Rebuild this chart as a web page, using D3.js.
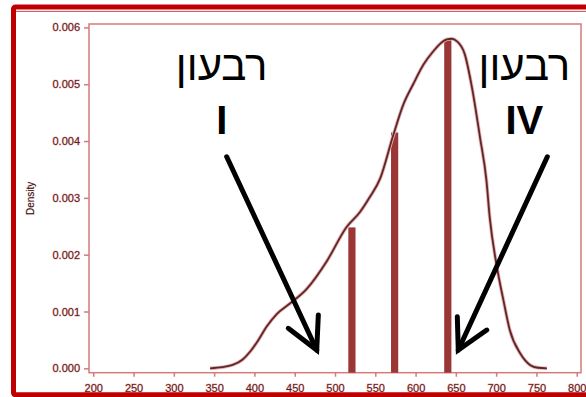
<!DOCTYPE html>
<html>
<head>
<meta charset="utf-8">
<script src="https://cdn.jsdelivr.net/npm/d3@7"></script>
<style>
  html, body { margin: 0; padding: 0; background: #fff; }
  svg { display: block; }
</style>
</head>
<body>
<div id="chart"></div>
<script>
// density curve
const scoreValues = [345, 360, 373, 385, 395, 405, 415, 428, 444, 465, 490, 514, 531, 543, 556, 572, 585, 597, 610, 622, 631, 639, 645, 651, 661, 670, 680, 688, 692, 701, 709, 717, 730, 742, 752, 763];
const densityValues = [0, 0.00002, 0.00006, 0.00015, 0.0003, 0.0005, 0.00073, 0.00096, 0.00114, 0.0014, 0.00189, 0.00248, 0.00275, 0.00301, 0.00334, 0.00409, 0.00465, 0.005, 0.00535, 0.00558, 0.00572, 0.00579, 0.0058, 0.00576, 0.00553, 0.00494, 0.00406, 0.0033, 0.00266, 0.00178, 0.0012, 0.00067, 0.00026, 0.00006, 0.00001, 0];

// quartile bars (Q1, median, Q3)
const quartileScores = [521, 574, 640];
const quartileHeights = [0.00248, 0.00415, 0.00579];

const xTicks = [200, 250, 300, 350, 400, 450, 500, 550, 600, 650, 700, 750, 800];
const yTicks = [0, 0.001, 0.002, 0.003, 0.004, 0.005, 0.006];

// annotations: arrow shaft [start, tip] and head arms, in data units
const arrowShafts = [
  [[365.6, 0.003724], [477.3, 0.000322]],
  [[763.5, 0.003724], [653, 0.000322]]
];
const arrowHeads = [
  [[442, 0.000704], [477.3, 0.000322], [479.3, 0.000938]],
  [[651.8, 0.000908], [653, 0.000322], [688.3, 0.000674]]
];
const quarterWord = 'רבעון';
const quarterLabels = [
  { score: 359.4, numeral: 'I' },
  { score: 735, numeral: 'IV' }
];

const W = 586, H = 397;
const svg = d3.select('#chart').append('svg')
  .attr('width', W).attr('height', H)
  .attr('font-family', '"Liberation Sans", Arial, "DejaVu Sans", sans-serif');

const x = d3.scaleLinear().domain([194.7, 805.3]).range([89, 581]);
const y = d3.scaleLinear().domain([-0.000077, 0.00606]).range([372.7, 24]);

const labelColor = '#5a1c1c';
const halo = '#f2b8b8';

// axes
const yAxis = svg.append('g')
  .attr('transform', `translate(${x.range()[0]},0)`)
  .call(d3.axisLeft(y).tickValues(yTicks).tickFormat(d3.format('.3f')).tickSize(5).tickPadding(4));
const xAxis = svg.append('g')
  .attr('transform', `translate(0,${y.range()[0]})`)
  .call(d3.axisBottom(x).tickValues(xTicks).tickFormat(d3.format('d')).tickSize(4).tickPadding(8));

[yAxis, xAxis].forEach(a => {
  a.select('.domain').remove();
  a.selectAll('.tick line').attr('stroke', '#d77a7a').attr('stroke-width', 1.5);
  a.selectAll('.tick text')
    .attr('fill', labelColor)
    .attr('font-size', '11px')
    .attr('font-family', '"Liberation Sans", Arial, sans-serif')
    .attr('stroke', halo)
    .attr('stroke-width', 0.8)
    .attr('paint-order', 'stroke');
});

// plot frame
svg.append('rect')
  .attr('x', x.range()[0])
  .attr('y', y.range()[1])
  .attr('width', x.range()[1] - x.range()[0])
  .attr('height', y.range()[0] - y.range()[1])
  .attr('fill', 'none')
  .attr('stroke', '#d77a7a')
  .attr('stroke-width', 1.5);

// y title
svg.append('text')
  .attr('transform', `translate(34,${(y.range()[0] + y.range()[1]) / 2}) rotate(-90)`)
  .attr('text-anchor', 'middle')
  .attr('font-size', '10px')
  .attr('fill', '#2a1414')
  .attr('stroke', halo)
  .attr('stroke-width', 0.5)
  .attr('paint-order', 'stroke')
  .text('Density');

// quartile bars
svg.selectAll('.qbar')
  .data(quartileScores.map((s, i) => ({ s, h: quartileHeights[i] })))
  .enter()
  .append('rect')
  .attr('class', 'qbar')
  .attr('x', d => x(d.s) - 3.6)
  .attr('width', 7.2)
  .attr('y', d => y(d.h))
  .attr('height', d => y.range()[0] - y(d.h))
  .attr('fill', '#9a3636');

// density curve
const pts = scoreValues.map((s, i) => [s, densityValues[i]]);
const line = d3.line().x(d => x(d[0])).y(d => y(d[1])).curve(d3.curveMonotoneX);
svg.append('path').datum(pts)
  .attr('d', line).attr('fill', 'none')
  .attr('stroke', '#eeb0b0').attr('stroke-width', 3.6);
svg.append('path').datum(pts)
  .attr('d', line).attr('fill', 'none')
  .attr('stroke', '#58282a').attr('stroke-width', 1.8);

// arrows
const pline = d3.line().x(d => x(d[0])).y(d => y(d[1]));
arrowShafts.concat(arrowHeads).forEach(p => {
  svg.append('path')
    .attr('d', pline(p))
    .attr('fill', 'none')
    .attr('stroke', '#000')
    .attr('stroke-width', 5)
    .attr('stroke-linecap', 'round')
    .attr('stroke-linejoin', 'miter');
});

// quarter labels
quarterLabels.forEach(q => {
  svg.append('text')
    .attr('x', x(q.score))
    .attr('y', 79.5)
    .attr('text-anchor', 'middle')
    .attr('font-size', '42px')
    .attr('fill', '#000')
    .text(quarterWord);
  svg.append('text')
    .attr('x', x(q.score))
    .attr('y', 133.5)
    .attr('text-anchor', 'middle')
    .attr('font-size', '40px')
    .attr('font-weight', 'bold')
    .attr('fill', '#000')
    .text(q.numeral);
});

// outer slide border
svg.append('rect')
  .attr('x', 13.5).attr('y', 7)
  .attr('width', 640).attr('height', 387.7)
  .attr('rx', 2)
  .attr('fill', 'none')
  .attr('stroke', '#c00000')
  .attr('stroke-width', 5);
svg.append('line')
  .attr('x1', 16).attr('x2', W)
  .attr('y1', 11.4).attr('y2', 11.4)
  .attr('stroke', '#d24a4a')
  .attr('stroke-width', 1);
</script>
</body>
</html>
